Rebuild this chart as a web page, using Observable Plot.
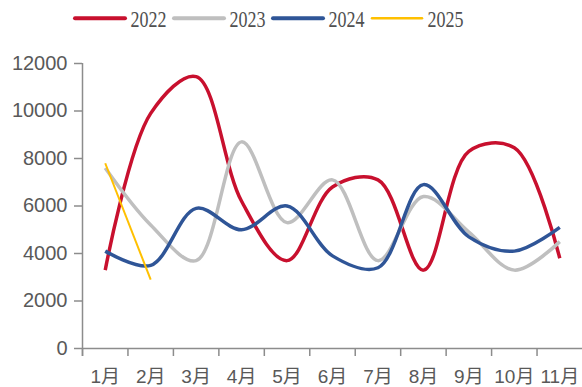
<!DOCTYPE html>
<html><head><meta charset="utf-8">
<script src="https://cdn.jsdelivr.net/npm/d3@7"></script>
<script src="https://cdn.jsdelivr.net/npm/@observablehq/plot@0.6"></script>
<style>body{margin:0;background:#fff;} svg{display:block}</style>
</head><body>
<svg id="legend" width="582" height="36"></svg>
<div id="chart"></div>
<script>
const months = ["1月","2月","3月","4月","5月","6月","7月","8月","9月","10月","11月"];
const years = ["2022","2023","2024","2025"];
const v2022 = [3300, 9900, 11450, 6200, 3700, 6800, 7100, 3300, 8300, 8450, 3800];
const v2023 = [7600, 5200, 3700, 8700, 5300, 7100, 3700, 6400, 4900, 3300, 4500];
const v2024 = [4100, 3500, 5900, 5000, 6000, 3900, 3400, 6900, 4700, 4100, 5100];
const v2025 = [7800, 2900];
const yTicks = [0, 2000, 4000, 6000, 8000, 10000, 12000];

const seriesValues = [v2022, v2023, v2024, v2025];
const colors = ["#C8102E", "#BFBFBF", "#2F5597", "#FFC000"];
const widths = [3.5, 3.5, 3.5, 2];

// Legend
const leg = d3.select("#legend");
const itemW = 99, startX = 75;
years.forEach((y, i) => {
  const x0 = startX + i * itemW;
  leg.append("line").attr("x1", x0).attr("x2", x0 + 50).attr("y1", 18.3).attr("y2", 18.3)
    .attr("stroke", colors[i]).attr("stroke-width", widths[i] + 0.5).attr("stroke-linecap", "round");
  leg.append("text").attr("x", x0 + 55.5).attr("y", 26.7).text(y)
    .attr("font-family", "'Liberation Serif','Times New Roman',serif").attr("font-size", 22.5)
    .attr("fill", "#505050").attr("textLength", 36).attr("lengthAdjust", "spacingAndGlyphs");
});

const seriesData = seriesValues.map((vals, s) => vals.map((v, i) => ({year: years[s], x: i + 1, v})));
const boundaries = months.map((m, i) => i + 0.5);
const centers = months.map((m, i) => i + 1);
const axisColor = "#8c8c8c";

const chart = Plot.plot({
  width: 582, height: 351,
  marginTop: 27, marginBottom: 39, marginLeft: 82, marginRight: 0,
  x: {type: "linear", domain: [0.5, months.length + 0.5]},
  y: {domain: [0, 12000]},
  style: {fontFamily: "'Liberation Sans', Arial, 'Noto Sans CJK SC', sans-serif", fontSize: "19px", background: "#fff"},
  marks: [
    Plot.axisY(yTicks, {tickSize: 8, tickPadding: 7, stroke: axisColor, strokeWidth: 1.5, fill: "#595959", label: null, fontSize: 20, tickFormat: d => String(d)}),
    Plot.axisX(boundaries, {tickSize: 8, stroke: axisColor, strokeWidth: 1.5, tickFormat: () => "", label: null}),
    Plot.axisX(centers, {tickSize: 0, tickPadding: 21, fill: "#595959", tickFormat: i => months[i - 1], label: null}),
    Plot.ruleX([0.5], {stroke: axisColor, strokeWidth: 1.5, insetBottom: -8}),
    Plot.ruleY([0], {stroke: axisColor, strokeWidth: 1.5}),
    ...seriesData.map((d, s) => Plot.line(d, {x: "x", y: "v", stroke: colors[s], strokeWidth: widths[s], curve: "catmull-rom", strokeLinecap: "butt"}))
  ]
});
document.getElementById("chart").appendChild(chart);
</script>
</body></html>
